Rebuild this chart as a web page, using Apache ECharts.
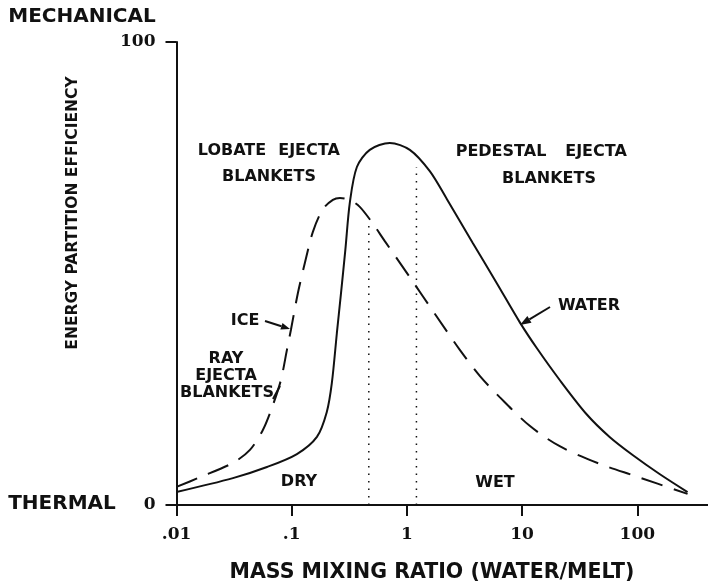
<!DOCTYPE html>
<html>
<head>
<meta charset="utf-8">
<script src="https://cdn.jsdelivr.net/npm/echarts@6/dist/echarts.min.js"></script>
<style>
  html, body { margin: 0; padding: 0; background: #ffffff; }
  #chart { width: 708px; height: 585px; }
</style>
</head>
<body>
<div id="chart"></div>
<script>
// Water (solid) curve: mass mixing ratio vs. energy partition efficiency
const waterX = [0.01, 0.0309, 0.061, 0.111, 0.1655, 0.2017, 0.223, 0.2466, 0.267, 0.2922, 0.32, 0.368, 0.476, 0.711, 1.06, 1.58, 2.22, 3.73, 6.03, 9.53, 13.4, 21.2, 36.3, 57.5, 91.1, 156, 273];
const waterY = [2.8, 5.8, 8.2, 11.0, 14.7, 20.1, 26.3, 37.1, 45.4, 55.1, 65.4, 73.0, 76.7, 78.2, 76.7, 72.1, 66.1, 56.6, 47.9, 39.5, 33.9, 27.0, 19.6, 14.7, 10.8, 6.7, 2.8];

// Ice (dashed) curve
const iceX = [0.01, 0.016, 0.0309, 0.0434, 0.0562, 0.0687, 0.0806, 0.0909, 0.0984, 0.1132, 0.1302, 0.1527, 0.1865, 0.2277, 0.262, 0.32, 0.39, 0.496, 0.643, 1.06, 1.746, 2.88, 4.29, 6.39, 11.64, 21.2, 47.1, 94.8, 273];
const iceY = [3.9, 6.0, 9.1, 11.9, 16.2, 21.6, 27.0, 33.5, 37.8, 45.8, 52.3, 59.0, 63.9, 65.9, 66.3, 65.9, 64.4, 61.1, 57.0, 49.2, 41.3, 33.5, 27.9, 23.3, 17.1, 12.7, 8.9, 6.3, 2.4];

// Dry / wet dividers (dotted verticals up to each curve)
const dividerX = [0.467, 1.21];
const dividerTop = [61, 73];

// Tick labels
const xTickValues = [0.01, 0.1, 1, 10, 100];
const xTickLabels = ['.01', '.1', '1', '10', '100'];
const yTickValues = [0, 100];
const yTickLabels = ['0', '100'];

const INK = '#111111';
const LABEL_FONT = 'bold 16px "DejaVu Sans"';
const TITLE_FONT = 'bold 20px "DejaVu Sans"';

function pairs(xs, ys) {
  return xs.map((x, i) => [x, ys[i]]);
}

function label(text, x, y, font) {
  return {
    type: 'text', x: x, y: y, silent: true,
    style: { text: text, font: font || LABEL_FONT, fill: INK, textAlign: 'center', textVerticalAlign: 'middle' }
  };
}

// Leader line with a filled arrowhead at (tx, ty)
function arrow(sx, sy, tx, ty, len, half) {
  const dx = tx - sx, dy = ty - sy;
  const d = Math.hypot(dx, dy);
  const ux = dx / d, uy = dy / d;
  const bx = tx - ux * len, by = ty - uy * len;
  return [
    { type: 'line', silent: true, shape: { x1: sx, y1: sy, x2: bx, y2: by }, style: { stroke: INK, lineWidth: 2 } },
    { type: 'polygon', silent: true, shape: { points: [[tx, ty], [bx - uy * half, by + ux * half], [bx + uy * half, by - ux * half]] }, style: { fill: INK } }
  ];
}

const dividerSeries = dividerX.map((x, i) => ({
  type: 'line',
  data: [[x, 0], [x, dividerTop[i]]],
  symbol: 'none',
  silent: true,
  lineStyle: { color: INK, width: 1.5, type: [1.5, 6] },
  z: 1
}));

const chart = echarts.init(document.getElementById('chart'), null, { renderer: 'canvas' });

chart.setOption({
  animation: false,
  backgroundColor: '#ffffff',
  // the last decade (100..1000) runs past the right edge, so the axis line reaches the border
  grid: { left: 176.5, top: 42, bottom: 80, right: -44.5, containLabel: false, outerBoundsMode: 'none' },
  xAxis: {
    type: 'log',
    logBase: 10,
    min: 0.01,
    max: 1000,
    axisLine: { lineStyle: { color: INK, width: 2 } },
    axisTick: { show: true, length: 11, lineStyle: { color: INK, width: 2 } },
    splitLine: { show: false },
    minorTick: { show: false },
    axisLabel: {
      margin: 21,
      color: INK,
      fontFamily: 'DejaVu Serif',
      fontWeight: 'bold',
      fontSize: 17,
      formatter: function (v) {
        const k = Math.round(Math.log10(v));
        const idx = xTickValues.findIndex(t => Math.round(Math.log10(t)) === k);
        return idx >= 0 ? xTickLabels[idx] : '';
      }
    }
  },
  yAxis: {
    type: 'value',
    min: 0,
    max: 100,
    interval: 100,
    axisLine: { show: true, lineStyle: { color: INK, width: 2 } },
    axisTick: { show: true, length: 11, lineStyle: { color: INK, width: 2 } },
    splitLine: { show: false },
    axisLabel: {
      margin: 21,
      color: INK,
      fontFamily: 'DejaVu Serif',
      fontWeight: 'bold',
      fontSize: 17,
      formatter: function (v) {
        const idx = yTickValues.indexOf(v);
        return idx >= 0 ? yTickLabels[idx] : '';
      }
    }
  },
  series: [
    {
      name: 'WATER',
      type: 'line',
      data: pairs(waterX, waterY),
      smooth: 0.3,
      symbol: 'none',
      lineStyle: { color: INK, width: 2 },
      z: 3
    },
    {
      name: 'ICE',
      type: 'line',
      data: pairs(iceX, iceY),
      smooth: 0.3,
      symbol: 'none',
      lineStyle: { color: INK, width: 2, type: [22, 12] },
      z: 3
    }
  ].concat(dividerSeries),
  graphic: [
    label('MECHANICAL', 82, 17, TITLE_FONT),
    label('THERMAL', 62, 504, TITLE_FONT),
    Object.assign(label('ENERGY PARTITION EFFICIENCY', 73, 213, 'bold 15.5px "DejaVu Sans"'), { rotation: Math.PI / 2 }),
    label('MASS MIXING RATIO (WATER/MELT)', 432, 573, 'bold 20.5px "DejaVu Sans"'),
    label('LOBATE', 232, 151),
    label('EJECTA', 309, 151),
    label('BLANKETS', 269, 177),
    label('PEDESTAL', 501, 152),
    label('EJECTA', 596, 152),
    label('BLANKETS', 549, 179),
    label('ICE', 245, 321),
    label('RAY', 226, 359),
    label('EJECTA', 226, 376),
    label('BLANKETS', 227, 393),
    { type: 'line', silent: true, shape: { x1: 273, y1: 399, x2: 280, y2: 386 }, style: { stroke: INK, lineWidth: 2 } },
    label('DRY', 299, 482),
    label('WET', 495, 483),
    label('WATER', 589, 306)
  ].concat(arrow(265, 321, 290, 329, 9, 3.5), arrow(550, 307, 520, 325, 11, 4))
});
</script>
</body>
</html>
